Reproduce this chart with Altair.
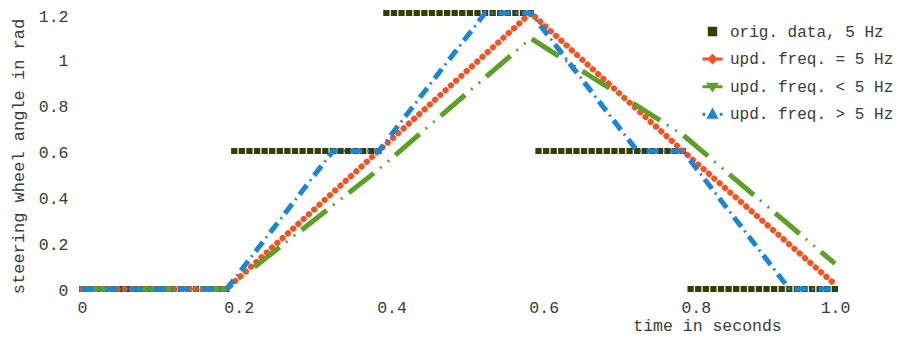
import altair as alt
import pandas as pd

# ---------------- data ----------------
# original 5 Hz data, zero-order hold segments (time in s)
t_orig_start = [0.0, 0.2, 0.4, 0.6, 0.8]
t_orig_end = [0.19, 0.39, 0.59, 0.79, 0.99]
orig_values = [0.0, 0.6, 1.2, 0.6, 0.0]

# update frequency = 5 Hz
t_eq = [0.0, 0.19, 0.39, 0.59, 0.79, 0.99]
v_eq = [0.0, 0.0, 0.6, 1.2, 0.6, 0.02]

# update frequency < 5 Hz
t_lt = [0.0, 0.19, 0.39, 0.59, 0.79, 0.99]
v_lt = [0.0, 0.0, 0.52, 1.09, 0.67, 0.11]

# update frequency > 5 Hz
t_gt = [0.0, 0.19, 0.33, 0.39, 0.53, 0.59, 0.73, 0.79, 0.93, 0.99]
v_gt = [0.0, 0.0, 0.6, 0.6, 1.2, 1.2, 0.6, 0.6, 0.0, 0.0]

series_names = ["orig. data, 5 Hz", "upd. freq. = 5 Hz",
                "upd. freq. < 5 Hz", "upd. freq. > 5 Hz"]
series_colors = ["#353f05", "#fb4f1f", "#5ba126", "#1a86d6"]
series_symbols = [
    "M-0.32,-0.32H0.32V0.32H-0.32Z",
    "M-1,0H1M-0.32,0L0,-0.32L0.32,0L0,0.32Z",
    "M-1,0H1M-0.38,-0.25H0.38L0,0.32Z",
    "M-1,0H-0.72M0.72,0H1M-0.36,0.3L0,-0.36L0.36,0.3Z",
]

x_tick_values = [0, 0.206, 0.407, 0.607, 0.807, 0.99]
x_tick_labels = ["0", "0.2", "0.4", "0.6", "0.8", "1.0"]
y_tick_values = [0, 0.2, 0.4, 0.6, 0.8, 1.0, 1.2]

# ---------------- tables ----------------
orig_rows = []
for i, (a, b, v) in enumerate(zip(t_orig_start, t_orig_end, orig_values)):
    orig_rows.append({"t": a, "v": v, "seg": i})
    orig_rows.append({"t": b, "v": v, "seg": i})
orig_df = pd.DataFrame(orig_rows)
eq_df = pd.DataFrame({"t": t_eq, "v": v_eq})
lt_df = pd.DataFrame({"t": t_lt, "v": v_lt})
gt_df = pd.DataFrame({"t": t_gt, "v": v_gt})
legend_df = pd.DataFrame({"series": series_names,
                          "t": [0.0] * 4, "v": [0.0] * 4})

FONT = "Liberation Mono"
TXT = "#3a3a3a"
FS = 16.5

label_expr = ("[" + ",".join(f"'{s}'" for s in x_tick_labels) + "][indexof(["
              + ",".join(str(v) for v in x_tick_values) + "], datum.value)]")

x_axis = alt.Axis(values=x_tick_values, labelExpr=label_expr, domain=False,
                  ticks=False, tickSize=0, grid=False, labelFlush=False,
                  labelPadding=10, labelFont=FONT, labelFontSize=FS,
                  labelColor=TXT, title="time in seconds", titleFont=FONT,
                  titleFontSize=FS, titleFontWeight="normal", titleColor=TXT,
                  titleX=625, titleY=41, titleAlign="center",
                  titleBaseline="alphabetic")
y_axis = alt.Axis(values=y_tick_values, format="~g", domain=False,
                  ticks=False, tickSize=0, grid=False, labelPadding=14,
                  labelOffset={"condition": {"test": "datum.value >= 1.2",
                                             "value": 3},
                               "value": 1.5},
                  labelFont=FONT, labelFontSize=FS, labelColor=TXT,
                  title="steering wheel angle in rad", titleFont=FONT,
                  titleFontSize=FS + 0.5, titleFontWeight="normal",
                  titleColor=TXT, titleX=-64, titleY=143, titleAngle=-90,
                  titleAlign="center", titleBaseline="middle")

x_enc = alt.X("t:Q", scale=alt.Scale(domain=[0, 0.99], nice=False, zero=False),
              axis=x_axis)
y_enc = alt.Y("v:Q", scale=alt.Scale(domain=[0, 1.2], nice=False, zero=False),
              axis=y_axis)

orig_layer = alt.Chart(orig_df).mark_line(
    stroke=series_colors[0], strokeWidth=6, strokeDash=[0.3, 7.29],
    strokeCap="square").encode(x=x_enc, y=y_enc, detail="seg:N")

eq_layer = alt.Chart(eq_df).mark_line(
    stroke=series_colors[1], strokeWidth=6, strokeDash=[0.3, 6.8],
    strokeCap="round").encode(x=x_enc, y=y_enc)

lt_dash = alt.Chart(lt_df).mark_line(
    stroke=series_colors[2], strokeWidth=5, strokeDash=[32, 28],
    strokeCap="butt").encode(x=x_enc, y=y_enc)
lt_dots = alt.Chart(lt_df).mark_line(
    stroke=series_colors[2], strokeWidth=3, strokeDash=[2, 8, 2, 48],
    strokeDashOffset=20, strokeCap="butt").encode(x=x_enc, y=y_enc)

gt_dash = alt.Chart(gt_df).mark_line(
    stroke=series_colors[3], strokeWidth=5, strokeDash=[12, 12],
    strokeCap="butt").encode(x=x_enc, y=y_enc)
gt_dots = alt.Chart(gt_df).mark_line(
    stroke=series_colors[3], strokeWidth=3, strokeDash=[2, 22],
    strokeDashOffset=7, strokeCap="butt").encode(x=x_enc, y=y_enc)

leg = alt.Legend(orient="none", legendX=619, legendY=7, title=None,
                 padding=0, symbolSize=400, symbolOpacity=1,
                 symbolStrokeWidth=3, labelFont=FONT, labelFontSize=16,
                 labelColor=TXT, labelOffset=6, rowPadding=6.6,
                 labelLimit=400)

legend_layer = alt.Chart(legend_df).mark_point(opacity=0).encode(
    x=x_enc, y=y_enc,
    fill=alt.Fill("series:N", scale=alt.Scale(domain=series_names,
                                              range=series_colors),
                  legend=leg),
    stroke=alt.Stroke("series:N", scale=alt.Scale(domain=series_names,
                                                  range=series_colors),
                      legend=leg),
    shape=alt.Shape("series:N", scale=alt.Scale(domain=series_names,
                                                range=series_symbols),
                    legend=leg),
)

chart = alt.layer(orig_layer, eq_layer, lt_dash, lt_dots, gt_dash, gt_dots,
                  legend_layer).properties(
    width=753, height=276,
    autosize=alt.AutoSizeParams(type="none"),
    padding={"left": 74, "top": 5, "right": 63, "bottom": 45},
    background="white",
).configure_view(stroke=None)

chart.save("out.html", embed_options={"renderer": "svg", "actions": False})
